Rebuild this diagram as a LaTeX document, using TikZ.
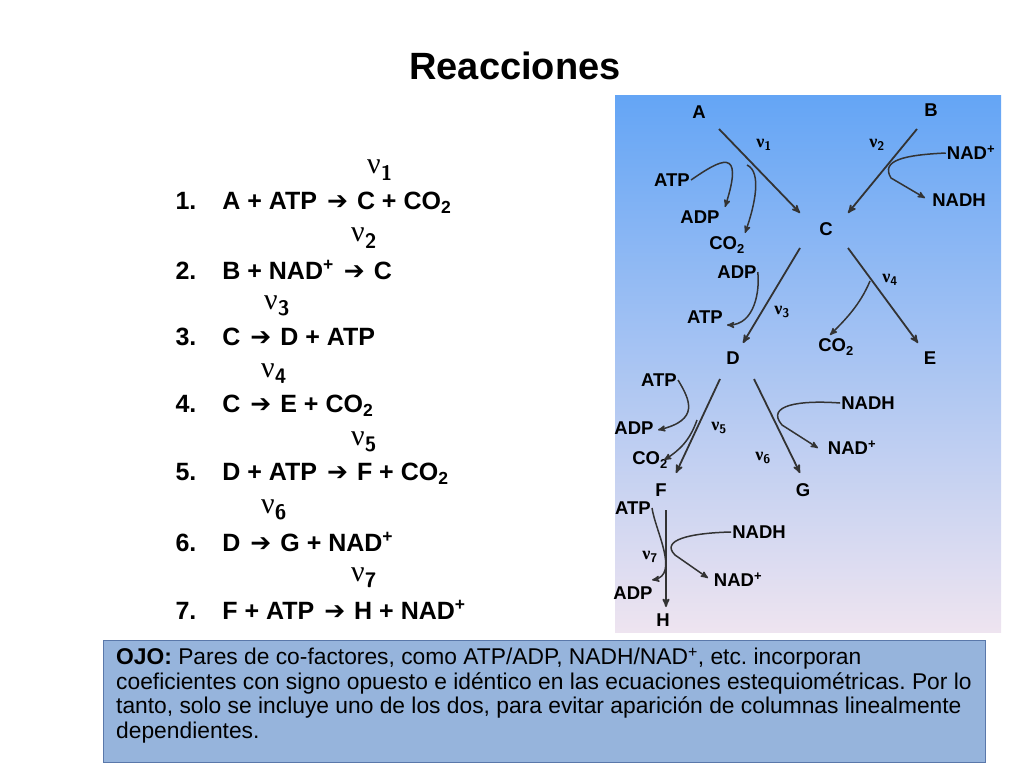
\documentclass[tikz,border=0pt]{standalone}
\usepackage{fontspec}
\setmainfont{Liberation Sans}
\newfontfamily\dejavu{DejaVu Sans}
\newfontfamily\greekserif{Liberation Serif}
\newcommand{\rarr}{\hspace{10pt}{\dejavu\fontsize{25}{26}\selectfont ➔}\hspace{9pt}}
\usetikzlibrary{arrows}
\frenchspacing
\begin{document}
\begin{tikzpicture}[x=1pt,y=-1pt,>=stealth',
                    eq/.style={anchor=west,font=\fontsize{25}{28}\selectfont\bfseries},
                    rate/.style={font=\fontsize{30}{32}\selectfont\greekserif},
                    met/.style={font=\fontsize{18.5}{20}\selectfont\bfseries,inner sep=1pt},
                    vv/.style={font=\fontsize{18}{20}\selectfont\bfseries\greekserif,inner sep=1pt},
                    rx/.style={->,line width=1.8pt,draw=black!80},
                    cof/.style={->,line width=1.5pt,draw=black!80}]
  \useasboundingbox (0,0) rectangle (1024,768);
  \node[font=\fontsize{38}{42}\selectfont\bfseries] (title) at (515,66) {Reacciones};
  % equations
  \node[eq] (e1) at (172,203) {1.\hspace{26pt}A + ATP\rarr C + CO\textsubscript{2}};
  \node[eq] (e2) at (172,270) {2.\hspace{26pt}B + NAD\textsuperscript{+}\rarr C};
  \node[eq] (e3) at (172,337) {3.\hspace{26pt}C\rarr D + ATP};
  \node[eq] (e4) at (172,406) {4.\hspace{26pt}C\rarr E + CO\textsubscript{2}};
  \node[eq] (e5) at (172,474) {5.\hspace{26pt}D + ATP\rarr F + CO\textsubscript{2}};
  \node[eq] (e6) at (172,542) {6.\hspace{26pt}D\rarr G + NAD\textsuperscript{+}};
  \node[eq] (e7) at (172,610) {7.\hspace{26pt}F + ATP\rarr H + NAD\textsuperscript{+}};
  \node[rate] (r1) at (380,170) {ν\textsubscript{\sffamily\bfseries 1}};
  \node[rate] (r2) at (364,238) {ν\textsubscript{\sffamily\bfseries 2}};
  \node[rate] (r3) at (277,306) {ν\textsubscript{\sffamily\bfseries 3}};
  \node[rate] (r4) at (274,374) {ν\textsubscript{\sffamily\bfseries 4}};
  \node[rate] (r5) at (364,442) {ν\textsubscript{\sffamily\bfseries 5}};
  \node[rate] (r6) at (274,510) {ν\textsubscript{\sffamily\bfseries 6}};
  \node[rate] (r7) at (364,578) {ν\textsubscript{\sffamily\bfseries 7}};
  % pathway panel
  \shade[top color={rgb,255:red,100;green,165;blue,245},bottom color={rgb,255:red,238;green,228;blue,240}]
    (615,95) rectangle (1001,632);
  \node[met] (A) at (699,112) {A};
  \node[met] (B) at (931,110) {B};
  \node[met] (C) at (826,229) {C};
  \node[met] (D) at (733,358) {D};
  \node[met] (E) at (930,358) {E};
  \node[met] (F) at (661,490) {F};
  \node[met] (G) at (803,490) {G};
  \node[met] (H) at (663,620) {H};
  \node[met] (atp1) at (672,180) {ATP};
  \node[met] (adp1) at (700,217) {ADP};
  \node[met] (co1) at (727,245) {CO\textsubscript{2}};
  \node[met] (nad2) at (971,153) {NAD\textsuperscript{+}};
  \node[met] (nadh2) at (959,200) {NADH};
  \node[met] (adp3) at (737,272) {ADP};
  \node[met] (atp3) at (705,317) {ATP};
  \node[met] (co4) at (836,347) {CO\textsubscript{2}};
  \node[met] (atp5) at (659,380) {ATP};
  \node[met] (adp5) at (634,428) {ADP};
  \node[met] (co5) at (650,460) {CO\textsubscript{2}};
  \node[met] (nadh6) at (868,403) {NADH};
  \node[met] (nad6) at (852,448) {NAD\textsuperscript{+}};
  \node[met] (atp7) at (633,508) {ATP};
  \node[met] (adp7) at (633,593) {ADP};
  \node[met] (nadh7) at (759,532) {NADH};
  \node[met] (nad7) at (738,580) {NAD\textsuperscript{+}};
  \node[vv] (v1) at (764,145) {ν\textsubscript{\sffamily 1}};
  \node[vv] (v2) at (877,145) {ν\textsubscript{\sffamily 2}};
  \node[vv] (v3) at (782,312) {ν\textsubscript{\sffamily 3}};
  \node[vv] (v4) at (890,280) {ν\textsubscript{\sffamily 4}};
  \node[vv] (v5) at (719,428) {ν\textsubscript{\sffamily 5}};
  \node[vv] (v6) at (763,458) {ν\textsubscript{\sffamily 6}};
  \node[vv] (v7) at (650,557) {ν\textsubscript{\sffamily 7}};
  \coordinate (a1) at (719,129); \coordinate (c1) at (800,213);
  \coordinate (b1) at (917,129); \coordinate (c2) at (848,213);
  \coordinate (c3) at (800,248); \coordinate (d1) at (743,343);
  \coordinate (c4) at (848,248); \coordinate (e1a) at (918,343);
  \coordinate (d2) at (720,379); \coordinate (f1) at (676,473);
  \coordinate (d3) at (754,379); \coordinate (g1) at (800,473);
  \coordinate (f2) at (666,510); \coordinate (h1) at (666,607);
  \draw[rx] (a1) -- (c1);
  \draw[rx] (b1) -- (c2);
  \draw[rx] (c3) -- (d1);
  \draw[rx] (c4) -- (e1a);
  \draw[rx] (d2) -- (f1);
  \draw[rx] (d3) -- (g1);
  \draw[rx] (f2) -- (h1);
  % cofactors
  \draw[cof] (atp1.east) .. controls (720,160) and (745,145) .. (725,207);
  \draw[cof] (747,165) .. controls (762,172) and (755,205) .. (745,233);
  \draw[cof] (nad2.west) .. controls (905,155) and (880,160) .. (891,178) -- (925,198);
  \draw[cof] (adp3.east) .. controls (760,290) and (755,325) .. (727,325);
  \draw[cof] (870,281) .. controls (860,305) and (845,320) .. (830,335);
  \draw[cof] (atp5.east) .. controls (690,400) and (700,420) .. (658,430);
  \draw[cof] (697,420) .. controls (690,440) and (680,450) .. (664,460);
  \draw[cof] (nadh6.west) .. controls (800,400) and (765,405) .. (782,425) -- (818,448);
  \draw[cof] (atp7.east) .. controls (655,530) and (680,575) .. (652,580);
  \draw[cof] (nadh7.west) .. controls (690,533) and (660,540) .. (675,555) -- (708,578);
  % note
  \node[draw={rgb,255:red,90;green,120;blue,170},fill={rgb,255:red,150;green,180;blue,220},
        minimum width=882,minimum height=122,anchor=north west] (note) at (103,640) {};
  \node[anchor=north west,align=left,inner sep=0pt,
        font=\fontsize{22.8}{24.5}\selectfont] (notetext) at (116,648)
    {\textbf{OJO:} Pares de co-factores, como ATP/ADP, NADH/NAD\textsuperscript{+}, etc. incorporan\\
     coeficientes con signo opuesto e idéntico en las ecuaciones estequiométricas. Por lo\\
     tanto, solo se incluye uno de los dos, para evitar aparición de columnas linealmente\\
     dependientes.};
\end{tikzpicture}
\end{document}
